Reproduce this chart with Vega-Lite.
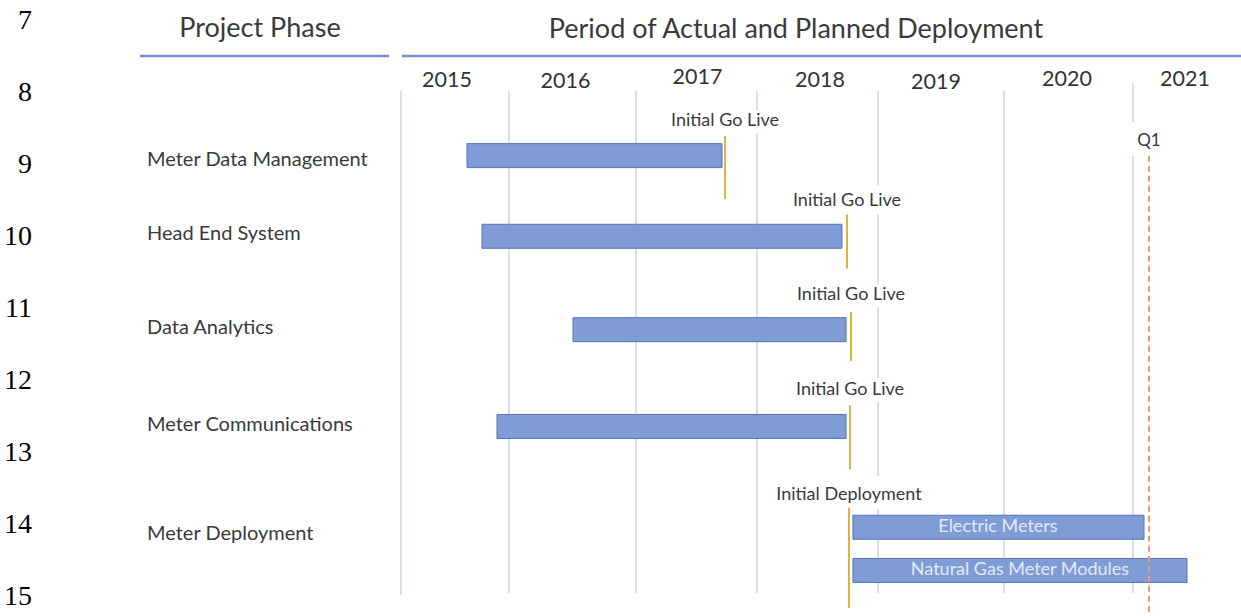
{
  "$schema": "https://vega.github.io/schema/vega-lite/v6.json",
  "width": 1241,
  "height": 616,
  "autosize": {"type": "none"},
  "padding": 0,
  "background": "white",
  "config": {"view": {"stroke": null}, "text": {"font": "Lato"}},
  "datasets": {
    "grid": [
      {"year": 2015, "from": 7.969, "to": 14.973},
      {"year": 2016, "from": 7.969, "to": 14.945},
      {"year": 2017, "from": 7.969, "to": 14.945},
      {"year": 2018, "from": 7.969, "to": 8.242},
      {"year": 2018, "from": 8.556, "to": 14.945},
      {"year": 2019, "from": 7.969, "to": 9.28},
      {"year": 2019, "from": 9.689, "to": 10.645},
      {"year": 2019, "from": 10.973, "to": 11.956},
      {"year": 2019, "from": 12.283, "to": 13.321},
      {"year": 2019, "from": 13.785, "to": 14.945},
      {"year": 2020, "from": 7.969, "to": 14.945},
      {"year": 2021, "from": 7.86, "to": 8.406},
      {"year": 2021, "from": 8.87, "to": 14.945}
    ],
    "underlines": [
      {"header": "Project Phase", "from": 2012.861, "to": 2014.902, "lane": 7.485},
      {"header": "Period of Actual and Planned Deployment", "from": 2015.009, "to": 2021.864, "lane": 7.485}
    ],
    "headers": [
      {"text": "Project Phase", "at": 2013.844, "lane": 7.218},
      {"text": "Period of Actual and Planned Deployment", "at": 2018.322, "lane": 7.232}
    ],
    "years": [
      {"year": "2015", "at": 2015.426, "lane": 7.833},
      {"year": "2016", "at": 2016.445, "lane": 7.853},
      {"year": "2017", "at": 2017.508, "lane": 7.792},
      {"year": "2018", "at": 2018.521, "lane": 7.833},
      {"year": "2019", "at": 2019.460, "lane": 7.86},
      {"year": "2020", "at": 2020.488, "lane": 7.819},
      {"year": "2021", "at": 2021.416, "lane": 7.819}
    ],
    "bars": [
      {"phase": "Meter Data Management", "start": 2015.611, "end": 2017.711, "lane": 8.87},
      {"phase": "Head End System", "start": 2015.75, "end": 2018.702, "lane": 9.99},
      {"phase": "Data Analytics", "start": 2016.504, "end": 2018.736, "lane": 11.287},
      {"phase": "Meter Communications", "start": 2015.889, "end": 2018.736, "lane": 12.631},
      {"phase": "Meter Deployment", "item": "Electric Meters", "start": 2018.793, "end": 2021.088, "lane": 14.031, "mid": 2019.952},
      {"phase": "Meter Deployment", "item": "Natural Gas Meter Modules", "start": 2018.793, "end": 2021.432, "lane": 14.631, "mid": 2020.124}
    ],
    "phases": [
      {"name": "Meter Data Management", "lane": 8.925},
      {"name": "Head End System", "lane": 9.962},
      {"name": "Data Analytics", "lane": 11.259},
      {"name": "Meter Communications", "lane": 12.611},
      {"name": "Meter Deployment", "lane": 14.126}
    ],
    "milestones": [
      {"label": "Initial Go Live", "date": 2017.736, "top": 8.597, "bottom": 9.471, "labelLane": 8.393},
      {"label": "Initial Go Live", "date": 2018.744, "top": 9.689, "bottom": 10.44, "labelLane": 9.498},
      {"label": "Initial Go Live", "date": 2018.777, "top": 11.041, "bottom": 11.724, "labelLane": 10.809},
      {"label": "Initial Go Live", "date": 2018.769, "top": 12.338, "bottom": 13.225, "labelLane": 12.119},
      {"label": "Initial Deployment", "date": 2018.76, "top": 13.758, "bottom": 15.15, "labelLane": 13.58}
    ],
    "target": [
      {"label": "Q1", "date": 2021.128, "top": 8.87, "bottom": 15.25, "labelLane": 8.666}
    ],
    "lines": [
      {"n": "7", "line": 7}, {"n": "8", "line": 8}, {"n": "9", "line": 9},
      {"n": "10", "line": 10}, {"n": "11", "line": 11}, {"n": "12", "line": 12},
      {"n": "13", "line": 13}, {"n": "14", "line": 14}, {"n": "15", "line": 15}
    ]
  },
  "layer": [
    {
      "data": {"name": "grid"},
      "mark": {"type": "rule", "color": "#c9d3ea", "strokeWidth": 1.5},
      "encoding": {
        "x": {"field": "year", "type": "quantitative", "axis": null, "scale": {"type": "linear", "domain": [2012, 2015, 2016, 2017, 2018, 2019, 2020, 2021, 2022], "range": [35, 401, 509, 636, 757, 878, 1004, 1133, 1258], "nice": false, "zero": false}},
        "y": {"field": "from", "type": "quantitative", "axis": null, "scale": {"type": "linear", "domain": [7, 15], "range": [16, 602], "nice": false, "zero": false}},
        "y2": {"field": "to"}
      }
    },
    {
      "data": {"name": "underlines"},
      "mark": {"type": "rule", "color": "#7490c6", "strokeWidth": 2.5},
      "encoding": {
        "x": {"field": "from", "type": "quantitative", "axis": null},
        "x2": {"field": "to"},
        "y": {"field": "lane", "type": "quantitative", "axis": null}
      }
    },
    {
      "data": {"name": "headers"},
      "mark": {"type": "text", "align": "center", "baseline": "alphabetic", "fontSize": 27, "color": "#3a3a3a"},
      "encoding": {
        "x": {"field": "at", "type": "quantitative", "axis": null},
        "y": {"field": "lane", "type": "quantitative", "axis": null},
        "text": {"field": "text"}
      }
    },
    {
      "data": {"name": "years"},
      "mark": {"type": "text", "align": "center", "baseline": "middle", "fontSize": 21.5, "color": "#333333"},
      "encoding": {
        "x": {"field": "at", "type": "quantitative", "axis": null},
        "y": {"field": "lane", "type": "quantitative", "axis": null},
        "text": {"field": "year"}
      }
    },
    {
      "data": {"name": "bars"},
      "mark": {"type": "bar", "orient": "horizontal", "height": 24, "color": "#7f9cd6", "stroke": "#5673b4", "strokeWidth": 1},
      "encoding": {
        "x": {"field": "start", "type": "quantitative", "axis": null},
        "x2": {"field": "end"},
        "y": {"field": "lane", "type": "quantitative", "axis": null}
      }
    },
    {
      "data": {"name": "bars"},
      "transform": [{"filter": "datum.item != null"}],
      "mark": {"type": "text", "align": "center", "baseline": "middle", "fontSize": 18, "color": "#e2e9f7"},
      "encoding": {
        "x": {"field": "mid", "type": "quantitative", "axis": null},
        "y": {"field": "lane", "type": "quantitative", "axis": null},
        "text": {"field": "item"}
      }
    },
    {
      "data": {"name": "milestones"},
      "mark": {"type": "rule", "color": "#e3b040", "strokeWidth": 2},
      "encoding": {
        "x": {"field": "date", "type": "quantitative", "axis": null},
        "y": {"field": "top", "type": "quantitative", "axis": null},
        "y2": {"field": "bottom"}
      }
    },
    {
      "data": {"name": "milestones"},
      "mark": {"type": "text", "align": "center", "baseline": "middle", "fontSize": 18, "color": "#3a3a3a"},
      "encoding": {
        "x": {"field": "date", "type": "quantitative", "axis": null},
        "y": {"field": "labelLane", "type": "quantitative", "axis": null},
        "text": {"field": "label"}
      }
    },
    {
      "data": {"name": "target"},
      "mark": {"type": "rule", "color": "#eb9a74", "strokeWidth": 2, "strokeDash": [6, 4]},
      "encoding": {
        "x": {"field": "date", "type": "quantitative", "axis": null},
        "y": {"field": "top", "type": "quantitative", "axis": null},
        "y2": {"field": "bottom"}
      }
    },
    {
      "data": {"name": "target"},
      "mark": {"type": "text", "align": "center", "baseline": "middle", "fontSize": 17, "color": "#3a3a3a"},
      "encoding": {
        "x": {"field": "date", "type": "quantitative", "axis": null},
        "y": {"field": "labelLane", "type": "quantitative", "axis": null},
        "text": {"field": "label"}
      }
    },
    {
      "data": {"name": "phases"},
      "mark": {"type": "text", "align": "left", "baseline": "middle", "fontSize": 20, "color": "#3a3a3a"},
      "encoding": {
        "x": {"datum": 2012.918, "type": "quantitative", "axis": null},
        "y": {"field": "lane", "type": "quantitative", "axis": null},
        "text": {"field": "name"}
      }
    },
    {
      "data": {"name": "lines"},
      "mark": {"type": "text", "align": "right", "baseline": "middle", "fontSize": 28, "font": "Liberation Serif", "color": "#000000"},
      "encoding": {
        "x": {"datum": 2011.975, "type": "quantitative", "axis": null},
        "y": {"field": "line", "type": "quantitative", "axis": null},
        "text": {"field": "n"}
      }
    }
  ]
}
